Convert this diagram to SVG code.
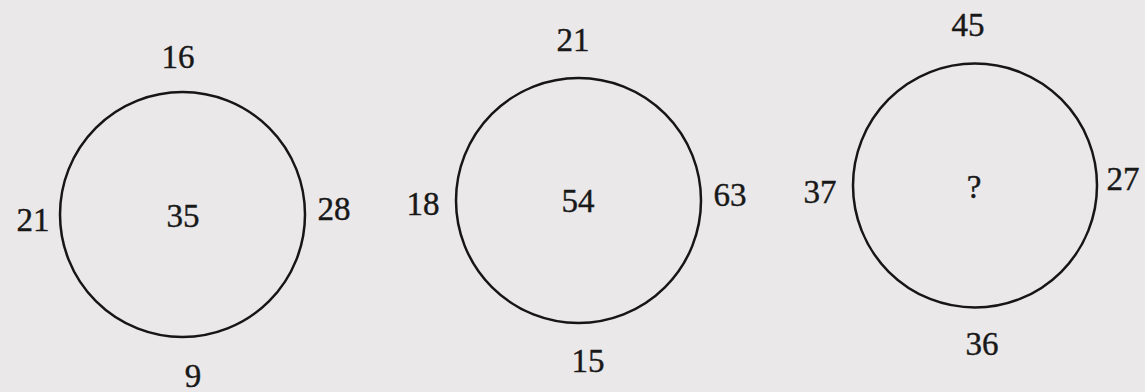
<svg xmlns="http://www.w3.org/2000/svg" width="1145" height="392" viewBox="0 0 1145 392">
<style>
.c{fill:none;stroke:#161616;stroke-width:2.5}
text{font-family:"Liberation Serif","DejaVu Serif",serif;font-size:33px;fill:#181818;stroke:#181818;stroke-width:0.4;text-anchor:middle}
</style>
<rect width="1145" height="392" fill="#ebe8e9"/>
<g id="circle1">
<circle class="c" cx="182.5" cy="214.5" r="122.5"/>
<text x="178" y="68">16</text>
<text x="33" y="231">21</text>
<text x="183" y="227">35</text>
<text x="334" y="220">28</text>
<text x="193" y="387">9</text>
</g>
<g id="circle2">
<circle class="c" cx="578.5" cy="200.5" r="122.5"/>
<text x="573" y="51">21</text>
<text x="423" y="215">18</text>
<text x="578" y="212">54</text>
<text x="730" y="206">63</text>
<text x="588" y="372">15</text>
</g>
<g id="circle3">
<circle class="c" cx="975" cy="185.5" r="122"/>
<text x="968" y="36">45</text>
<text x="820" y="203">37</text>
<text x="974" y="198">?</text>
<text x="1123" y="190">27</text>
<text x="982" y="355">36</text>
</g>
<g id="connectors"/>
</svg>
